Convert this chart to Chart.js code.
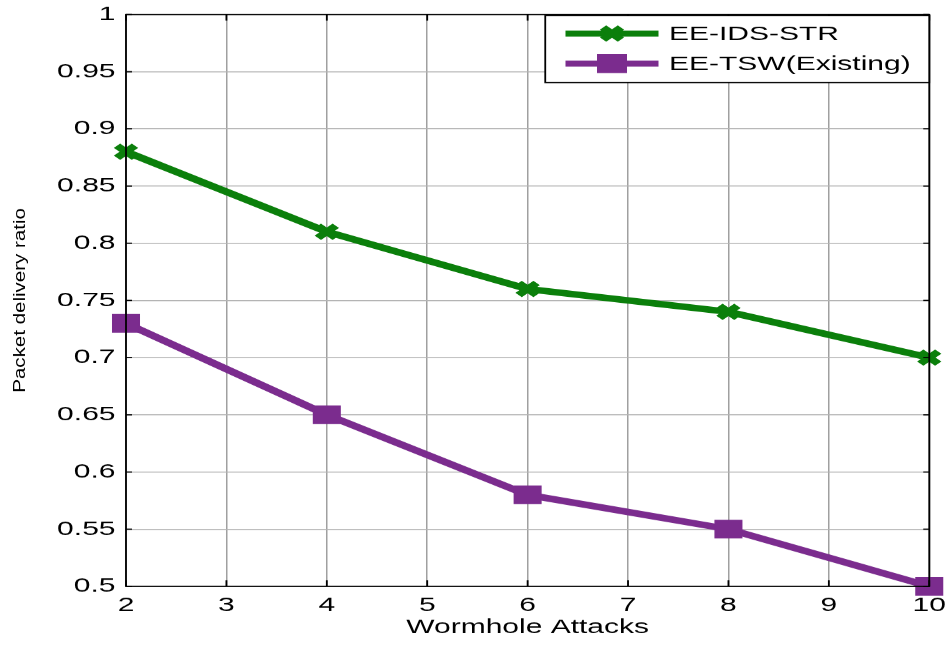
<!DOCTYPE html>
<html>
<head>
<meta charset="utf-8">
<script src="https://cdn.jsdelivr.net/npm/chart.js@4.4.0/dist/chart.umd.min.js"></script>
<style>
  html, body { margin: 0; padding: 0; background: #fff; overflow: hidden; }
  /* the figure is drawn narrow and widened 1.5x, like the exported plot */
  #wrap { width: 634px; height: 647px; transform: scaleX(1.5); transform-origin: 0 0; }
</style>
</head>
<body>
<div id="wrap"><canvas id="pdr"></canvas></div>
<script>
// Packet delivery ratio vs. number of wormhole attacks
const attacks = [2, 4, 6, 8, 10];
const eeIdsStr = [0.88, 0.81, 0.76, 0.74, 0.70];
const eeTsw = [0.73, 0.65, 0.58, 0.55, 0.50];
const seriesNames = ['EE-IDS-STR', 'EE-TSW(Existing)'];
const yTitle = 'Packet delivery ratio';
const xTitle = 'Wormhole Attacks';

const green = '#0b7f0b';
const purple = '#7b2c8e';
const font = '"Liberation Sans", Arial, sans-serif';

// black frame round the plot area, with short inward ticks
const frame = {
  id: 'frame',
  afterDatasetsDraw(chart) {
    const { ctx, chartArea: a, scales } = chart;
    ctx.save();
    ctx.strokeStyle = '#000';
    ctx.lineWidth = 1.2;
    ctx.beginPath();
    scales.x.ticks.forEach(t => {
      const x = scales.x.getPixelForValue(t.value);
      ctx.moveTo(x, a.bottom); ctx.lineTo(x, a.bottom - 6);
      ctx.moveTo(x, a.top); ctx.lineTo(x, a.top + 6);
    });
    scales.y.ticks.forEach(t => {
      const y = scales.y.getPixelForValue(t.value);
      ctx.moveTo(a.left, y); ctx.lineTo(a.left + 4, y);
      ctx.moveTo(a.right, y); ctx.lineTo(a.right - 4, y);
    });
    ctx.stroke();
    ctx.strokeRect(a.left, a.top, a.right - a.left, a.bottom - a.top);
    ctx.restore();
  }
};

// rotated y title, squeezed across the glyphs
const yLabel = {
  id: 'yLabel',
  afterDraw(chart) {
    const { ctx, chartArea: a } = chart;
    ctx.save();
    ctx.translate(16.7, (a.top + a.bottom) / 2);
    ctx.scale(0.55, 1);
    ctx.rotate(-Math.PI / 2);
    ctx.fillStyle = '#000';
    ctx.font = '20.5px ' + font;
    ctx.textAlign = 'center';
    ctx.textBaseline = 'alphabetic';
    ctx.fillText(yTitle, 0, 0);
    ctx.restore();
  }
};

// legend box in the top right corner
const boxLegend = {
  id: 'boxLegend',
  afterDraw(chart) {
    const { ctx, chartArea: a } = chart;
    const x0 = 363.5, y0 = a.top + 1, w = a.right - x0, h = 67;
    ctx.save();
    ctx.fillStyle = '#fff';
    ctx.fillRect(x0, y0, w, h);
    ctx.strokeStyle = '#000';
    ctx.lineWidth = 1.2;
    ctx.strokeRect(x0, y0, w, h);
    chart.data.datasets.forEach((ds, i) => {
      const y = y0 + 18 + i * 30;
      ctx.strokeStyle = ds.borderColor;
      ctx.lineWidth = 6;
      ctx.beginPath();
      ctx.moveTo(377, y);
      ctx.lineTo(439, y);
      ctx.stroke();
      ctx.fillStyle = ds.borderColor;
      if (i === 0) {
        ctx.lineWidth = 6;
        ctx.beginPath();
        ctx.moveTo(402, y - 6); ctx.lineTo(414, y + 6);
        ctx.moveTo(402, y + 6); ctx.lineTo(414, y - 6);
        ctx.stroke();
      } else {
        ctx.fillRect(398, y - 9.5, 20, 19);
      }
      ctx.fillStyle = '#000';
      ctx.font = '20px ' + font;
      ctx.textBaseline = 'middle';
      ctx.fillText(ds.label, 446, y + 1);
    });
    ctx.restore();
  }
};

new Chart(document.getElementById('pdr'), {
  type: 'line',
  data: {
    datasets: [
      {
        label: seriesNames[0],
        data: attacks.map((x, i) => ({ x, y: eeIdsStr[i] })),
        borderColor: green,
        backgroundColor: green,
        borderWidth: 6.5,
        pointStyle: 'crossRot',
        pointRadius: 8.5,
        pointBorderWidth: 6,
        tension: 0
      },
      {
        label: seriesNames[1],
        data: attacks.map((x, i) => ({ x, y: eeTsw[i] })),
        borderColor: purple,
        backgroundColor: purple,
        borderWidth: 6.5,
        pointStyle: 'rect',
        pointRadius: 12.5,
        pointBorderWidth: 1,
        tension: 0
      }
    ]
  },
  options: {
    responsive: true,
    maintainAspectRatio: false,
    devicePixelRatio: 1.5,
    animation: false,
    clip: false,
    layout: { padding: { top: 10, right: 13, left: 0, bottom: 0 } },
    plugins: { legend: { display: false }, tooltip: { enabled: false } },
    scales: {
      x: {
        type: 'linear',
        min: 2,
        max: 10,
        ticks: { stepSize: 1, color: '#000', font: { family: font, size: 20 }, padding: 7 },
        grid: { color: '#a0a0a0', lineWidth: 1, drawTicks: false },
        border: { display: false },
        title: { display: true, text: xTitle, color: '#000', font: { family: font, size: 20 }, padding: { top: 0, bottom: 8 } },
        afterFit(s) { s.height = 61; s.paddingLeft = 0; s.paddingRight = 0; }
      },
      y: {
        min: 0.5,
        max: 1,
        ticks: {
          stepSize: 0.05,
          color: '#000',
          font: { family: font, size: 20 },
          padding: 7,
          callback: v => String(Math.round(v * 100) / 100)
        },
        grid: { color: '#b4b4b4', lineWidth: 1, drawTicks: false },
        border: { display: false },
        afterFit(s) { s.width = 84; s.paddingTop = 0; s.paddingBottom = 0; }
      }
    }
  },
  plugins: [frame, yLabel, boxLegend]
});
</script>
</body>
</html>
